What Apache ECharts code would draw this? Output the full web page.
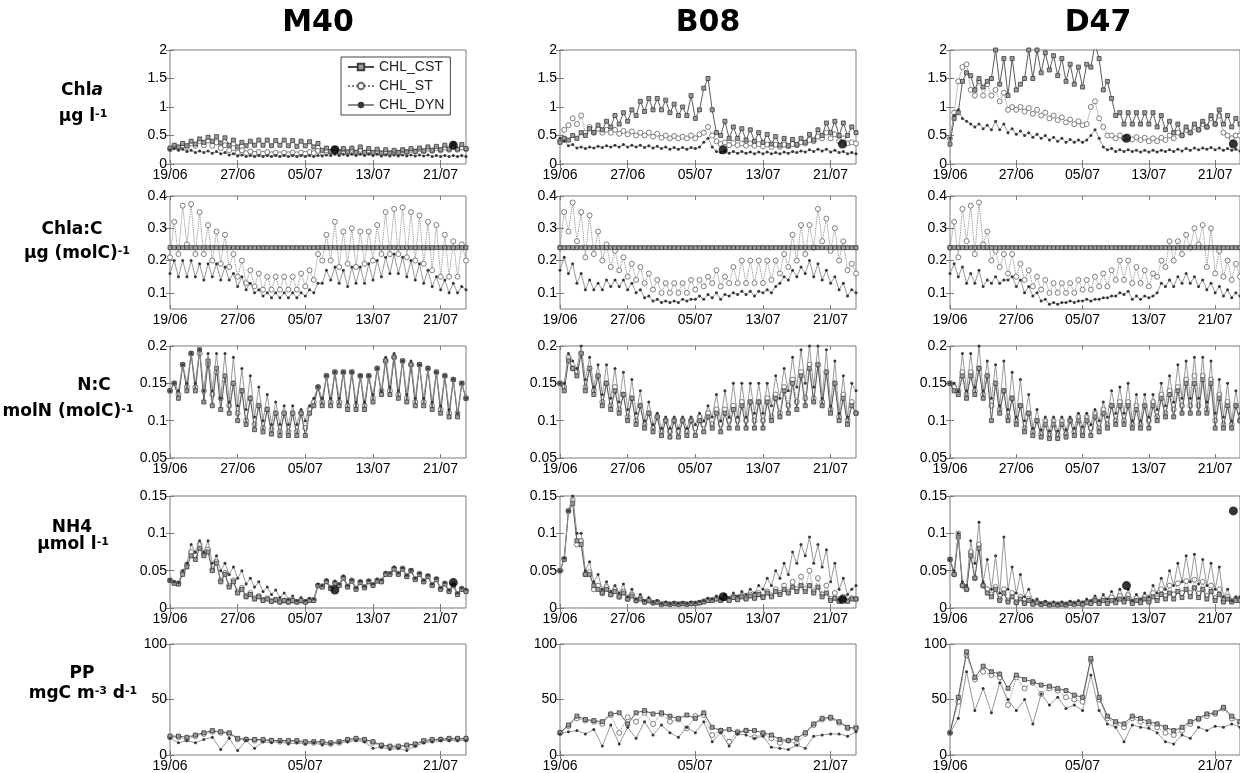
<!DOCTYPE html>
<html><head><meta charset="utf-8">
<script src="https://cdn.jsdelivr.net/npm/echarts@6/dist/echarts.min.js"></script>
<style>html,body{margin:0;padding:0;background:#fff}#c{width:1240px;height:773px}</style>
</head><body><div id="c"></div><script>
// ---------------- DATA ----------------
const stations = ['M40', 'B08', 'D47'];
const seriesNames = ['CHL_CST', 'CHL_ST', 'CHL_DYN'];
const xTickDays = [0, 8, 16, 24, 32];
const xTickLabels = ['19/06', '27/06', '05/07', '13/07', '21/07'];
const ppTickDays = [0, 16, 32];
const modelStepDays = 0.5;   // model output every half day
const ppStepDays = 1;        // PP daily

// Chla (µg/l)
const M40_chl_cst = [0.28,0.33,0.3,0.36,0.32,0.4,0.35,0.44,0.38,0.47,0.4,0.48,0.37,0.46,0.33,0.42,0.3,0.38,0.32,0.4,0.33,0.42,0.33,0.42,0.32,0.41,0.33,0.42,0.32,0.41,0.31,0.4,0.32,0.39,0.3,0.36,0.24,0.28,0.22,0.27,0.21,0.27,0.21,0.28,0.2,0.3,0.2,0.27,0.2,0.26,0.19,0.25,0.19,0.24,0.2,0.25,0.21,0.27,0.22,0.28,0.23,0.3,0.24,0.31,0.25,0.33,0.26,0.35,0.26,0.34,0.27];
const M40_chl_st = [0.26,0.3,0.28,0.33,0.3,0.36,0.32,0.4,0.33,0.41,0.32,0.38,0.28,0.33,0.24,0.28,0.2,0.24,0.19,0.22,0.18,0.21,0.18,0.21,0.17,0.2,0.17,0.2,0.17,0.2,0.17,0.2,0.18,0.21,0.19,0.23,0.2,0.24,0.21,0.25,0.21,0.26,0.21,0.25,0.2,0.25,0.2,0.24,0.19,0.23,0.19,0.22,0.19,0.22,0.2,0.24,0.21,0.25,0.22,0.26,0.22,0.27,0.23,0.28,0.24,0.29,0.25,0.3,0.25,0.29,0.26];
const M40_chl_dyn = [0.25,0.27,0.24,0.26,0.22,0.24,0.2,0.23,0.2,0.23,0.19,0.22,0.18,0.2,0.16,0.18,0.14,0.16,0.13,0.15,0.13,0.15,0.13,0.15,0.13,0.15,0.13,0.15,0.13,0.15,0.13,0.15,0.13,0.15,0.13,0.15,0.14,0.16,0.15,0.17,0.15,0.17,0.15,0.17,0.15,0.17,0.15,0.17,0.15,0.17,0.14,0.16,0.14,0.16,0.14,0.16,0.14,0.16,0.14,0.16,0.14,0.16,0.13,0.15,0.13,0.15,0.13,0.15,0.13,0.15,0.13];
const B08_chl_cst = [0.38,0.45,0.42,0.5,0.45,0.55,0.5,0.62,0.55,0.68,0.6,0.75,0.65,0.85,0.7,0.9,0.75,0.95,0.85,1.1,0.92,1.15,0.95,1.15,0.95,1.12,0.9,1.05,0.85,1.0,0.85,1.2,0.8,0.95,1.33,1.5,0.95,0.55,0.5,0.75,0.45,0.65,0.45,0.62,0.42,0.6,0.4,0.55,0.38,0.52,0.35,0.48,0.33,0.45,0.32,0.43,0.34,0.45,0.38,0.52,0.42,0.6,0.5,0.72,0.55,0.75,0.5,0.72,0.5,0.65,0.55];
const B08_chl_st = [0.4,0.6,0.68,0.8,0.7,0.85,0.55,0.65,0.55,0.62,0.55,0.6,0.55,0.6,0.53,0.58,0.52,0.57,0.5,0.55,0.5,0.55,0.48,0.53,0.46,0.5,0.45,0.49,0.45,0.48,0.45,0.5,0.45,0.52,0.55,0.65,0.5,0.4,0.35,0.38,0.33,0.37,0.33,0.36,0.32,0.36,0.32,0.35,0.31,0.34,0.3,0.34,0.3,0.34,0.31,0.35,0.33,0.38,0.36,0.42,0.4,0.48,0.45,0.55,0.45,0.52,0.4,0.45,0.36,0.38,0.36];
const B08_chl_dyn = [0.45,0.4,0.32,0.34,0.28,0.3,0.27,0.3,0.28,0.31,0.29,0.32,0.3,0.33,0.3,0.34,0.3,0.33,0.3,0.33,0.29,0.32,0.28,0.31,0.27,0.3,0.26,0.29,0.26,0.29,0.26,0.29,0.27,0.3,0.38,0.45,0.3,0.22,0.2,0.23,0.19,0.22,0.19,0.22,0.19,0.21,0.18,0.21,0.18,0.21,0.18,0.2,0.18,0.21,0.19,0.22,0.2,0.23,0.21,0.25,0.22,0.26,0.23,0.26,0.21,0.24,0.2,0.22,0.18,0.2,0.18];
const D47_chl_cst = [0.35,0.8,0.9,1.45,1.6,1.55,1.3,1.5,1.35,1.45,1.5,2.0,1.4,1.85,1.2,1.85,1.3,1.4,1.5,2.0,1.5,2.0,1.6,1.95,1.65,1.9,1.55,1.85,1.45,1.75,1.4,1.7,1.35,1.75,1.7,2.1,1.85,1.3,1.45,1.15,0.85,0.9,0.7,0.9,0.7,0.9,0.7,0.9,0.7,0.9,0.65,0.85,0.6,0.75,0.55,0.7,0.5,0.65,0.55,0.7,0.6,0.75,0.65,0.85,0.7,0.95,0.7,0.85,0.65,0.8,0.7];
const D47_chl_st = [0.45,0.9,1.45,1.7,1.75,1.3,1.2,1.45,1.2,1.4,1.2,1.3,1.1,1.25,0.95,1.0,0.95,1.0,0.92,0.98,0.88,0.95,0.85,0.9,0.8,0.85,0.77,0.82,0.73,0.78,0.7,0.75,0.68,0.7,1.0,1.1,0.8,0.65,0.5,0.5,0.45,0.5,0.45,0.48,0.43,0.47,0.42,0.46,0.4,0.45,0.4,0.46,0.42,0.5,0.45,0.55,0.5,0.6,0.55,0.65,0.6,0.7,0.65,0.8,0.7,0.85,0.55,0.5,0.45,0.5,0.5];
const D47_chl_dyn = [0.45,0.85,0.95,0.8,0.75,0.7,0.65,0.7,0.62,0.68,0.6,0.75,0.6,0.7,0.55,0.62,0.52,0.58,0.5,0.55,0.47,0.52,0.45,0.5,0.42,0.47,0.4,0.45,0.38,0.43,0.38,0.42,0.38,0.42,0.5,0.6,0.45,0.3,0.25,0.27,0.22,0.25,0.22,0.25,0.22,0.24,0.21,0.24,0.21,0.24,0.21,0.24,0.22,0.25,0.22,0.26,0.23,0.27,0.24,0.28,0.25,0.28,0.26,0.29,0.25,0.28,0.24,0.27,0.24,0.26,0.23];

// Chla:C (µg/molC) - constant ratio run
const chlc_cst = [0.24,0.24,0.24,0.24,0.24,0.24,0.24,0.24,0.24,0.24,0.24,0.24,0.24,0.24,0.24,0.24,0.24,0.24,0.24,0.24,0.24,0.24,0.24,0.24,0.24,0.24,0.24,0.24,0.24,0.24,0.24,0.24,0.24,0.24,0.24,0.24,0.24,0.24,0.24,0.24,0.24,0.24,0.24,0.24,0.24,0.24,0.24,0.24,0.24,0.24,0.24,0.24,0.24,0.24,0.24,0.24,0.24,0.24,0.24,0.24,0.24,0.24,0.24,0.24,0.24,0.24,0.24,0.24,0.24,0.24,0.24];
const M40_chlc_st = [0.21,0.32,0.22,0.37,0.25,0.375,0.22,0.35,0.22,0.31,0.2,0.29,0.19,0.28,0.18,0.22,0.15,0.2,0.13,0.17,0.12,0.16,0.11,0.15,0.11,0.15,0.11,0.15,0.11,0.15,0.11,0.16,0.12,0.17,0.14,0.22,0.2,0.28,0.2,0.32,0.18,0.29,0.19,0.3,0.18,0.29,0.19,0.29,0.2,0.31,0.22,0.35,0.22,0.36,0.22,0.365,0.21,0.35,0.2,0.34,0.19,0.32,0.17,0.31,0.15,0.28,0.15,0.26,0.15,0.25,0.2];
const M40_chlc_dyn = [0.16,0.2,0.15,0.2,0.15,0.2,0.15,0.19,0.14,0.19,0.15,0.19,0.14,0.18,0.14,0.16,0.12,0.15,0.11,0.13,0.1,0.11,0.09,0.1,0.085,0.1,0.085,0.1,0.085,0.1,0.085,0.1,0.09,0.11,0.1,0.13,0.13,0.17,0.14,0.18,0.13,0.17,0.12,0.18,0.13,0.18,0.13,0.19,0.14,0.2,0.15,0.21,0.16,0.22,0.16,0.21,0.15,0.2,0.14,0.19,0.13,0.17,0.12,0.15,0.11,0.14,0.1,0.13,0.1,0.12,0.11];
const B08_chlc_st = [0.24,0.35,0.29,0.38,0.26,0.35,0.21,0.34,0.22,0.29,0.2,0.25,0.18,0.23,0.17,0.21,0.15,0.19,0.14,0.18,0.13,0.16,0.11,0.14,0.1,0.13,0.1,0.13,0.1,0.13,0.1,0.14,0.11,0.14,0.12,0.15,0.13,0.17,0.12,0.15,0.13,0.18,0.13,0.2,0.13,0.2,0.13,0.2,0.13,0.2,0.14,0.2,0.16,0.22,0.18,0.28,0.2,0.31,0.22,0.31,0.24,0.36,0.26,0.33,0.23,0.3,0.2,0.26,0.17,0.19,0.16];
const B08_chlc_dyn = [0.17,0.21,0.16,0.19,0.13,0.16,0.11,0.14,0.11,0.13,0.11,0.14,0.12,0.14,0.12,0.14,0.11,0.13,0.1,0.11,0.085,0.09,0.075,0.08,0.07,0.075,0.07,0.075,0.07,0.08,0.075,0.08,0.08,0.09,0.08,0.095,0.085,0.1,0.08,0.095,0.09,0.1,0.095,0.105,0.095,0.105,0.09,0.105,0.1,0.11,0.1,0.12,0.13,0.15,0.14,0.17,0.15,0.18,0.16,0.2,0.15,0.19,0.14,0.17,0.13,0.15,0.11,0.13,0.09,0.11,0.1];
const D47_chlc_st = [0.24,0.32,0.21,0.36,0.26,0.37,0.22,0.38,0.25,0.29,0.2,0.23,0.18,0.22,0.16,0.22,0.15,0.19,0.14,0.17,0.12,0.15,0.11,0.14,0.1,0.13,0.1,0.13,0.1,0.13,0.1,0.14,0.11,0.14,0.11,0.15,0.12,0.16,0.12,0.17,0.14,0.2,0.14,0.2,0.13,0.18,0.13,0.17,0.12,0.16,0.15,0.2,0.18,0.26,0.2,0.26,0.22,0.28,0.24,0.3,0.25,0.31,0.18,0.3,0.16,0.23,0.15,0.2,0.14,0.19,0.15];
const D47_chlc_dyn = [0.16,0.19,0.15,0.18,0.13,0.16,0.13,0.17,0.12,0.14,0.13,0.15,0.13,0.14,0.14,0.15,0.12,0.14,0.1,0.12,0.09,0.1,0.075,0.08,0.065,0.07,0.065,0.07,0.07,0.075,0.07,0.075,0.075,0.08,0.075,0.08,0.08,0.085,0.085,0.09,0.09,0.1,0.095,0.105,0.08,0.09,0.08,0.09,0.085,0.09,0.1,0.13,0.12,0.14,0.12,0.15,0.13,0.16,0.13,0.15,0.12,0.14,0.11,0.13,0.1,0.12,0.09,0.11,0.085,0.1,0.09];

// N:C (molN/molC)
const M40_nc_cst = [0.14,0.15,0.13,0.175,0.14,0.19,0.14,0.195,0.125,0.18,0.12,0.17,0.115,0.16,0.11,0.15,0.1,0.14,0.095,0.13,0.088,0.12,0.085,0.115,0.082,0.11,0.08,0.11,0.08,0.11,0.08,0.11,0.08,0.11,0.12,0.145,0.12,0.16,0.12,0.165,0.12,0.165,0.115,0.165,0.115,0.16,0.115,0.16,0.125,0.17,0.135,0.18,0.135,0.185,0.13,0.18,0.125,0.175,0.12,0.175,0.12,0.17,0.115,0.165,0.11,0.16,0.105,0.155,0.105,0.15,0.13];
const M40_nc_st = [0.14,0.15,0.135,0.175,0.145,0.19,0.145,0.19,0.14,0.175,0.135,0.165,0.13,0.155,0.12,0.15,0.11,0.14,0.1,0.13,0.095,0.12,0.09,0.115,0.088,0.11,0.085,0.11,0.085,0.11,0.085,0.11,0.09,0.115,0.125,0.145,0.125,0.16,0.125,0.165,0.125,0.165,0.12,0.165,0.12,0.16,0.12,0.16,0.13,0.17,0.14,0.18,0.14,0.185,0.135,0.18,0.13,0.175,0.125,0.175,0.125,0.17,0.12,0.165,0.115,0.16,0.11,0.155,0.11,0.15,0.13];
const M40_nc_dyn = [0.14,0.15,0.14,0.175,0.15,0.19,0.15,0.195,0.14,0.19,0.14,0.19,0.13,0.19,0.125,0.185,0.12,0.17,0.115,0.16,0.105,0.145,0.1,0.135,0.095,0.125,0.095,0.12,0.095,0.12,0.095,0.115,0.1,0.12,0.13,0.145,0.13,0.16,0.13,0.165,0.13,0.165,0.125,0.165,0.125,0.16,0.125,0.16,0.135,0.17,0.14,0.185,0.145,0.19,0.14,0.18,0.135,0.18,0.13,0.175,0.13,0.17,0.125,0.165,0.12,0.16,0.115,0.155,0.11,0.15,0.13];
const B08_nc_cst = [0.15,0.14,0.18,0.17,0.16,0.19,0.14,0.17,0.135,0.16,0.12,0.15,0.115,0.14,0.11,0.135,0.1,0.13,0.095,0.12,0.09,0.11,0.085,0.105,0.08,0.1,0.078,0.1,0.078,0.1,0.08,0.1,0.08,0.1,0.085,0.105,0.09,0.11,0.085,0.11,0.09,0.115,0.09,0.12,0.09,0.125,0.09,0.125,0.09,0.125,0.1,0.13,0.105,0.14,0.11,0.15,0.115,0.16,0.12,0.17,0.125,0.175,0.12,0.165,0.11,0.15,0.1,0.13,0.095,0.12,0.11];
const B08_nc_st = [0.15,0.145,0.185,0.17,0.165,0.19,0.145,0.17,0.14,0.16,0.125,0.15,0.12,0.145,0.115,0.135,0.105,0.13,0.1,0.12,0.095,0.11,0.09,0.105,0.085,0.1,0.085,0.1,0.085,0.1,0.085,0.1,0.09,0.105,0.095,0.11,0.095,0.115,0.095,0.115,0.1,0.12,0.1,0.125,0.1,0.125,0.1,0.125,0.1,0.13,0.105,0.135,0.11,0.145,0.12,0.155,0.125,0.165,0.13,0.175,0.13,0.175,0.125,0.165,0.115,0.15,0.105,0.135,0.1,0.125,0.11];
const B08_nc_dyn = [0.15,0.15,0.19,0.18,0.17,0.2,0.155,0.185,0.145,0.175,0.135,0.175,0.13,0.17,0.125,0.165,0.115,0.155,0.11,0.14,0.1,0.125,0.095,0.11,0.09,0.105,0.09,0.105,0.09,0.105,0.09,0.105,0.095,0.11,0.1,0.12,0.105,0.135,0.1,0.14,0.105,0.15,0.105,0.15,0.105,0.15,0.11,0.15,0.11,0.15,0.12,0.16,0.13,0.17,0.14,0.185,0.145,0.195,0.15,0.2,0.145,0.2,0.13,0.195,0.12,0.18,0.11,0.16,0.105,0.15,0.14];
const D47_nc_cst = [0.15,0.14,0.135,0.16,0.13,0.16,0.135,0.17,0.13,0.16,0.1,0.15,0.11,0.14,0.1,0.13,0.095,0.12,0.085,0.11,0.08,0.1,0.078,0.095,0.076,0.095,0.076,0.095,0.078,0.1,0.08,0.1,0.08,0.1,0.08,0.105,0.085,0.11,0.09,0.12,0.095,0.12,0.095,0.12,0.09,0.115,0.09,0.12,0.09,0.12,0.1,0.13,0.105,0.135,0.105,0.14,0.11,0.15,0.11,0.15,0.11,0.155,0.11,0.15,0.09,0.13,0.09,0.12,0.09,0.12,0.1];
const D47_nc_st = [0.15,0.145,0.14,0.165,0.135,0.165,0.14,0.17,0.135,0.16,0.12,0.15,0.115,0.14,0.105,0.13,0.1,0.12,0.09,0.11,0.085,0.1,0.082,0.1,0.08,0.1,0.08,0.1,0.082,0.1,0.085,0.105,0.085,0.105,0.09,0.11,0.09,0.115,0.095,0.12,0.1,0.125,0.1,0.125,0.095,0.12,0.095,0.12,0.1,0.125,0.105,0.135,0.11,0.14,0.115,0.145,0.12,0.155,0.12,0.16,0.12,0.16,0.115,0.155,0.1,0.135,0.095,0.125,0.095,0.12,0.1];
const D47_nc_dyn = [0.15,0.15,0.14,0.19,0.14,0.19,0.145,0.2,0.14,0.18,0.13,0.175,0.12,0.18,0.115,0.165,0.105,0.155,0.1,0.135,0.09,0.115,0.088,0.105,0.086,0.105,0.086,0.105,0.088,0.105,0.09,0.11,0.092,0.11,0.095,0.115,0.1,0.125,0.105,0.14,0.11,0.145,0.11,0.15,0.1,0.135,0.1,0.135,0.105,0.135,0.115,0.15,0.12,0.16,0.125,0.175,0.13,0.18,0.13,0.185,0.13,0.185,0.125,0.18,0.11,0.155,0.105,0.15,0.1,0.14,0.11];

// NH4 (µmol/l)
const M40_nh4_cst = [0.037,0.033,0.032,0.045,0.055,0.07,0.065,0.08,0.07,0.075,0.05,0.06,0.035,0.045,0.028,0.035,0.02,0.025,0.015,0.018,0.012,0.015,0.01,0.012,0.009,0.011,0.008,0.01,0.008,0.01,0.008,0.01,0.008,0.01,0.01,0.03,0.028,0.035,0.026,0.033,0.03,0.04,0.028,0.036,0.025,0.034,0.027,0.035,0.03,0.036,0.035,0.045,0.045,0.052,0.045,0.052,0.042,0.05,0.038,0.045,0.035,0.042,0.03,0.038,0.025,0.032,0.022,0.03,0.018,0.025,0.022];
const M40_nh4_st = [0.037,0.034,0.033,0.048,0.058,0.075,0.07,0.085,0.072,0.078,0.052,0.062,0.037,0.047,0.03,0.037,0.022,0.027,0.016,0.02,0.013,0.016,0.011,0.013,0.009,0.011,0.008,0.01,0.008,0.01,0.008,0.01,0.008,0.011,0.011,0.03,0.029,0.036,0.027,0.034,0.031,0.041,0.029,0.037,0.026,0.035,0.028,0.036,0.031,0.037,0.036,0.046,0.046,0.053,0.046,0.053,0.043,0.05,0.039,0.046,0.036,0.043,0.031,0.039,0.026,0.033,0.023,0.031,0.019,0.026,0.023];
const M40_nh4_dyn = [0.037,0.035,0.034,0.05,0.06,0.085,0.075,0.09,0.075,0.09,0.06,0.07,0.05,0.06,0.045,0.055,0.04,0.05,0.032,0.04,0.028,0.035,0.022,0.028,0.018,0.024,0.014,0.02,0.012,0.016,0.01,0.014,0.01,0.013,0.012,0.032,0.03,0.038,0.028,0.036,0.032,0.043,0.03,0.038,0.027,0.036,0.029,0.037,0.032,0.039,0.038,0.048,0.047,0.055,0.047,0.054,0.044,0.051,0.04,0.047,0.037,0.044,0.032,0.04,0.027,0.034,0.024,0.032,0.02,0.027,0.025];
const B08_nh4_cst = [0.05,0.065,0.13,0.14,0.09,0.085,0.045,0.045,0.03,0.025,0.02,0.025,0.018,0.022,0.015,0.02,0.012,0.016,0.01,0.012,0.008,0.01,0.007,0.008,0.005,0.006,0.005,0.006,0.005,0.006,0.005,0.006,0.006,0.007,0.008,0.01,0.01,0.012,0.01,0.013,0.01,0.014,0.011,0.015,0.012,0.016,0.013,0.018,0.014,0.02,0.015,0.022,0.018,0.025,0.02,0.028,0.022,0.03,0.022,0.03,0.02,0.028,0.015,0.02,0.01,0.013,0.009,0.012,0.009,0.012,0.012];
const B08_nh4_st = [0.05,0.066,0.13,0.145,0.085,0.09,0.045,0.048,0.025,0.03,0.02,0.028,0.018,0.025,0.015,0.022,0.012,0.018,0.01,0.013,0.008,0.01,0.007,0.008,0.005,0.006,0.005,0.006,0.005,0.006,0.005,0.006,0.006,0.007,0.009,0.011,0.011,0.013,0.011,0.014,0.011,0.015,0.012,0.016,0.013,0.018,0.014,0.02,0.015,0.022,0.017,0.025,0.02,0.03,0.022,0.035,0.025,0.042,0.025,0.05,0.022,0.04,0.018,0.03,0.012,0.02,0.01,0.015,0.01,0.013,0.012];
const B08_nh4_dyn = [0.05,0.067,0.13,0.15,0.1,0.1,0.05,0.062,0.035,0.045,0.025,0.035,0.022,0.03,0.02,0.032,0.015,0.025,0.012,0.018,0.01,0.014,0.008,0.01,0.006,0.008,0.006,0.007,0.006,0.007,0.006,0.008,0.007,0.009,0.01,0.013,0.012,0.016,0.013,0.018,0.014,0.02,0.016,0.022,0.018,0.025,0.02,0.03,0.025,0.04,0.03,0.05,0.04,0.06,0.045,0.075,0.06,0.085,0.07,0.095,0.06,0.085,0.055,0.078,0.035,0.06,0.025,0.04,0.018,0.025,0.03];
const D47_nh4_cst = [0.065,0.045,0.095,0.03,0.025,0.07,0.04,0.08,0.03,0.02,0.015,0.025,0.01,0.02,0.008,0.015,0.007,0.012,0.006,0.01,0.005,0.007,0.005,0.006,0.004,0.005,0.004,0.005,0.004,0.006,0.005,0.006,0.005,0.007,0.006,0.01,0.006,0.01,0.006,0.01,0.007,0.012,0.008,0.013,0.006,0.01,0.007,0.012,0.008,0.015,0.01,0.018,0.012,0.02,0.012,0.022,0.014,0.025,0.015,0.027,0.014,0.025,0.012,0.022,0.01,0.018,0.008,0.012,0.008,0.01,0.01];
const D47_nh4_st = [0.065,0.045,0.1,0.03,0.025,0.075,0.04,0.085,0.03,0.025,0.018,0.028,0.012,0.025,0.01,0.02,0.008,0.015,0.007,0.012,0.006,0.008,0.005,0.007,0.005,0.006,0.005,0.006,0.005,0.007,0.006,0.007,0.006,0.008,0.007,0.012,0.007,0.012,0.008,0.014,0.009,0.016,0.01,0.017,0.008,0.013,0.009,0.015,0.01,0.02,0.013,0.025,0.016,0.03,0.018,0.033,0.02,0.036,0.02,0.038,0.019,0.035,0.016,0.03,0.013,0.025,0.01,0.015,0.01,0.012,0.012];
const D47_nh4_dyn = [0.065,0.05,0.1,0.035,0.03,0.09,0.06,0.115,0.035,0.065,0.025,0.07,0.02,0.095,0.025,0.055,0.02,0.045,0.015,0.025,0.01,0.012,0.007,0.009,0.006,0.008,0.006,0.008,0.006,0.009,0.007,0.01,0.008,0.012,0.01,0.016,0.01,0.018,0.012,0.022,0.012,0.025,0.013,0.025,0.01,0.018,0.012,0.02,0.015,0.03,0.02,0.04,0.025,0.05,0.03,0.06,0.035,0.07,0.035,0.072,0.032,0.065,0.03,0.06,0.025,0.055,0.015,0.025,0.01,0.015,0.015];

// PP (mgC m-3 d-1), daily
const M40_pp_cst = [17,17,16,18,20,22,21,20,15,14,14,14,13,13,13,13,12,12,12,11,12,14,15,14,12,9,8,8,9,10,13,14,14,15,15,15];
const M40_pp_st = [16,16,14,17,19,21,20,19,14,14,13,13,13,12,12,12,11,11,11,10,11,13,14,13,11,8,7,7,8,9,12,13,14,14,14,14];
const M40_pp_dyn = [15,11,13,11,14,16,5,15,4,13,6,12,11,12,10,11,10,11,9,10,11,12,13,12,6,7,5,6,4,8,11,12,13,13,13,13];
const B08_pp_cst = [20,27,35,32,31,30,37,38,28,38,40,37,38,35,33,36,33,38,25,22,23,20,22,22,20,18,14,13,15,20,28,33,34,30,25,24];
const B08_pp_st = [20,26,33,31,30,28,36,20,34,30,38,28,37,30,32,24,35,36,18,22,12,21,22,16,19,15,11,13,10,19,27,32,33,29,24,25];
const B08_pp_dyn = [19,21,22,19,23,8,27,10,25,15,30,18,27,20,16,25,20,30,12,20,8,19,18,15,17,7,6,5,9,6,17,18,19,19,17,21];
const D47_pp_cst = [20,52,93,70,80,75,73,60,72,68,66,63,62,60,58,54,52,87,52,35,30,28,35,33,30,28,25,22,25,30,33,37,38,43,35,30];
const D47_pp_st = [20,48,90,68,75,72,70,45,70,60,65,55,60,58,52,50,48,85,50,33,28,25,33,30,28,25,20,18,22,28,32,35,37,42,33,28];
const D47_pp_dyn = [20,33,75,40,60,38,65,50,40,50,28,55,45,52,42,45,40,72,40,28,25,12,27,25,24,20,12,10,18,15,25,22,26,25,28,25];

// Observations (day since 19/06, value)
const M40_obs_days = [19.5, 33.5], M40_obs_chl = [0.25, 0.33], M40_obs_nh4 = [0.024, 0.034];
const B08_obs_days = [19.3, 33.4], B08_obs_chl = [0.25, 0.35], B08_obs_nh4 = [0.015, 0.0115];
const D47_obs_days = [21.3, 34.2], D47_obs_chl = [0.45, 0.35], D47_obs_nh4 = [0.03, 0.13];

// ---------------- TABLES FOR THE LIBRARY ----------------
const model = {
  M40: [[M40_chl_cst, M40_chl_st, M40_chl_dyn], [chlc_cst, M40_chlc_st, M40_chlc_dyn], [M40_nc_cst, M40_nc_st, M40_nc_dyn], [M40_nh4_cst, M40_nh4_st, M40_nh4_dyn], [M40_pp_cst, M40_pp_st, M40_pp_dyn]],
  B08: [[B08_chl_cst, B08_chl_st, B08_chl_dyn], [chlc_cst, B08_chlc_st, B08_chlc_dyn], [B08_nc_cst, B08_nc_st, B08_nc_dyn], [B08_nh4_cst, B08_nh4_st, B08_nh4_dyn], [B08_pp_cst, B08_pp_st, B08_pp_dyn]],
  D47: [[D47_chl_cst, D47_chl_st, D47_chl_dyn], [chlc_cst, D47_chlc_st, D47_chlc_dyn], [D47_nc_cst, D47_nc_st, D47_nc_dyn], [D47_nh4_cst, D47_nh4_st, D47_nh4_dyn], [D47_pp_cst, D47_pp_st, D47_pp_dyn]]
};
const obs = {
  M40: {days: M40_obs_days, rows: {0: M40_obs_chl, 3: M40_obs_nh4}},
  B08: {days: B08_obs_days, rows: {0: B08_obs_chl, 3: B08_obs_nh4}},
  D47: {days: D47_obs_days, rows: {0: D47_obs_chl, 3: D47_obs_nh4}}
};
const rowAxes = [
  {min: 0, max: 2, ticks: [0, 0.5, 1, 1.5, 2], step: modelStepDays},
  {min: 0.05, max: 0.4, ticks: [0.1, 0.2, 0.3, 0.4], step: modelStepDays},
  {min: 0.05, max: 0.2, ticks: [0.05, 0.1, 0.15, 0.2], step: modelStepDays},
  {min: 0, max: 0.15, ticks: [0, 0.05, 0.1, 0.15], step: modelStepDays},
  {min: 0, max: 100, ticks: [0, 50, 100], step: ppStepDays}
];

// ---------------- LAYOUT ----------------
const colLeft = [170, 560, 950];
const plotW = 296;
const rowTop = [50, 196, 346, 496, 644];
const rowH = [114, 113, 112, 112, 112];
const FONT = 'Liberation Sans, Arial, sans-serif';
const frame = '#7a7a7a';

const styles = [
  {symbol: 'rect', symbolSize: 4, itemStyle: {color: '#9c9c9c', borderColor: '#3c3c3c', borderWidth: 0.8}, lineStyle: {color: '#4a4a4a', width: 0.9, type: 'solid'}, z: 3},
  {symbol: 'circle', symbolSize: 5, itemStyle: {color: '#ffffff', borderColor: '#6e6e6e', borderWidth: 0.9}, lineStyle: {color: '#7a7a7a', width: 0.9, type: 'dotted'}, z: 2},
  {symbol: 'circle', symbolSize: 3, itemStyle: {color: '#383838'}, lineStyle: {color: '#8c8c8c', width: 0.9, type: 'solid'}, z: 4}
];

const grids = [], xAxes = [], yAxes = [], series = [];
const fmtY = v => String(+v.toFixed(3));
const fmtX = v => { const i = xTickDays.indexOf(v); return i >= 0 ? xTickLabels[i] : ''; };

stations.forEach((st, c) => {
  rowAxes.forEach((ax, r) => {
    const g = grids.length;
    grids.push({left: colLeft[c], top: rowTop[r], width: plotW, height: rowH[r], show: true, borderColor: frame, borderWidth: 1, backgroundColor: 'transparent'});
    const xt = r === 4 ? ppTickDays : xTickDays;
    const xBase = {type: 'value', gridIndex: g, min: 0, max: 35, splitLine: {show: false}, axisLine: {show: false}};
    xAxes.push(Object.assign({}, xBase, {position: 'bottom',
      axisTick: {show: true, inside: true, length: 4, lineStyle: {color: frame}, customValues: xt},
      axisLabel: {show: true, customValues: xt, formatter: fmtX, margin: 4, color: '#000', fontSize: 14, fontFamily: FONT}}));
    xAxes.push(Object.assign({}, xBase, {position: 'top',
      axisTick: {show: true, inside: true, length: 4, lineStyle: {color: frame}, customValues: xt},
      axisLabel: {show: false}}));
    const yBase = {type: 'value', gridIndex: g, min: ax.min, max: ax.max, splitLine: {show: false}, axisLine: {show: false}};
    yAxes.push(Object.assign({}, yBase, {position: 'left',
      axisTick: {show: true, inside: true, length: 4, lineStyle: {color: frame}, customValues: ax.ticks},
      axisLabel: {show: true, customValues: ax.ticks, formatter: fmtY, margin: 3, color: '#000', fontSize: 14, fontFamily: FONT}}));
    yAxes.push(Object.assign({}, yBase, {position: 'right',
      axisTick: {show: true, inside: true, length: 4, lineStyle: {color: frame}, customValues: ax.ticks},
      axisLabel: {show: false}}));
    const xi = 2 * g, yi = 2 * g;
    model[st][r].forEach((arr, k) => {
      const s = styles[k];
      series.push({
        name: seriesNames[k], type: 'line', xAxisIndex: xi, yAxisIndex: yi,
        data: arr.map((v, i) => [i * ax.step, v]),
        symbol: s.symbol, symbolSize: s.symbolSize, showSymbol: true, showAllSymbol: true,
        itemStyle: s.itemStyle, lineStyle: s.lineStyle, z: s.z, clip: true, silent: true,
        emphasis: {disabled: true}
      });
    });
    const o = obs[st].rows[r];
    if (o) {
      series.push({name: 'obs', type: 'scatter', xAxisIndex: xi, yAxisIndex: yi,
        data: o.map((v, i) => [obs[st].days[i], v]), symbol: 'circle', symbolSize: 9,
        itemStyle: {color: '#000'}, z: 6, silent: true});
    }
  });
});

// ---------------- TEXT ----------------
const graphic = [];
stations.forEach((st, c) => {
  graphic.push({type: 'text', x: colLeft[c] + plotW / 2, y: 23,
    style: {text: st, font: 'bold 30px "DejaVu Sans", sans-serif', fill: '#000', textAlign: 'center', textVerticalAlign: 'middle'}});
});
const LBL = 'DejaVu Sans, sans-serif';
const rich = {
  b: {fontFamily: LBL, fontWeight: 'bold', fontSize: 17, color: '#000'},
  bi: {fontFamily: LBL, fontWeight: 'bold', fontStyle: 'italic', fontSize: 17, color: '#000'},
  sup: {fontFamily: LBL, fontWeight: 'bold', fontSize: 11, color: '#000', verticalAlign: 'top', padding: [0, 0, 6, 0]}
};
const rowLabels = [
  ['{b|Chl}{bi|a}', 82, 91], ['{b|µg l}{sup|-1}', 83, 117],
  ['{b|Chla:C}', 72, 230], ['{b|µg (molC)}{sup|-1}', 77, 254],
  ['{b|N:C}', 94, 386], ['{b|molN (molC)}{sup|-1}', 68, 412],
  ['{b|NH4}', 72, 528], ['{b|µmol l}{sup|-1}', 73, 545],
  ['{b|PP}', 82, 674], ['{b|mgC m}{sup|-3}{b| d}{sup|-1}', 83, 694]
];
rowLabels.forEach(([t, x, y]) => {
  graphic.push({type: 'text', x: x, y: y, style: {text: t, rich: rich, textAlign: 'center', textVerticalAlign: 'middle'}});
});

const chart = echarts.init(document.getElementById('c'), null, {renderer: 'canvas'});
chart.setOption({
  animation: false,
  backgroundColor: '#fff',
  grid: grids, xAxis: xAxes, yAxis: yAxes, series: series, graphic: graphic,
  legend: {
    data: seriesNames, orient: 'vertical', left: 341, top: 57, selectedMode: false,
    backgroundColor: '#fff', borderColor: '#444', borderWidth: 1, padding: [3, 6, 3, 6],
    itemGap: 5, itemWidth: 26, itemHeight: 8,
    textStyle: {fontFamily: FONT, fontSize: 14, color: '#222'}
  }
});
</script></body></html>
